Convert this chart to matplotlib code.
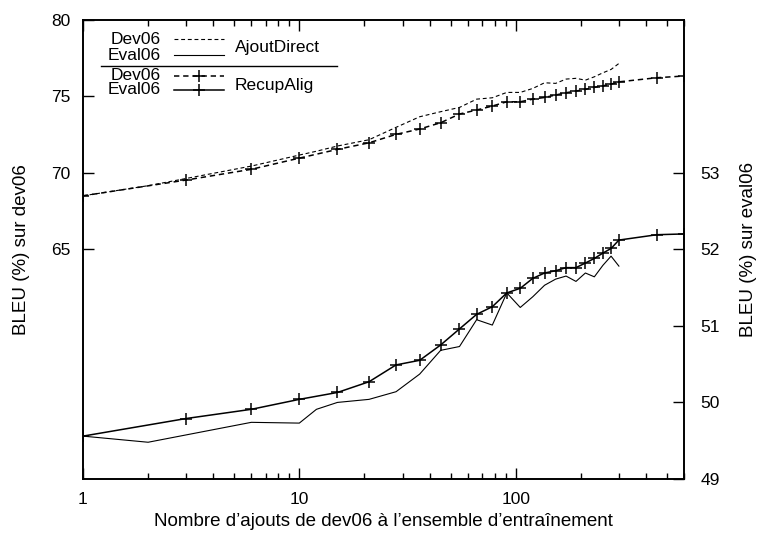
import matplotlib
matplotlib.use("Agg")
import matplotlib.pyplot as plt
from matplotlib.ticker import LogLocator, NullFormatter
from matplotlib.lines import Line2D

plt.rcParams['font.family'] = ['Liberation Sans', 'DejaVu Sans']

# RecupAlig : nombre d'ajouts
x_recup = [1, 3, 6, 10, 15, 21, 28, 36, 45, 55, 66, 78, 91, 105, 120, 136,
           153, 171, 190, 210, 231, 253, 276, 300, 450, 600]
dev_recup = [68.49, 69.52, 70.22, 70.95, 71.52, 71.95, 72.50, 72.85, 73.26,
             73.83, 74.09, 74.35, 74.63, 74.63, 74.80, 74.91, 75.07, 75.22,
             75.33, 75.44, 75.57, 75.67, 75.78, 75.93, 76.20, 76.31]
eval_recup = [49.56, 49.79, 49.91, 50.04, 50.13, 50.27, 50.49, 50.55, 50.75,
              50.96, 51.15, 51.25, 51.43, 51.49, 51.62, 51.69, 51.72, 51.76,
              51.76, 51.82, 51.88, 51.95, 52.01, 52.12, 52.19, 52.20]

# AjoutDirect
x_direct = [1, 2, 6, 10, 12, 15, 21, 28, 36, 45, 55, 66, 78, 91, 105, 120,
            136, 153, 171, 190, 210, 231, 253, 276, 300]
dev_direct = [68.49, 69.15, 70.43, 71.15, 71.40, 71.74, 72.15, 72.96, 73.65,
              73.98, 74.26, 74.80, 74.89, 75.24, 75.24, 75.50, 75.87, 75.83,
              76.11, 76.16, 76.04, 76.26, 76.52, 76.74, 77.13]
eval_direct = [49.56, 49.48, 49.74, 49.73, 49.91, 50.00, 50.04, 50.14, 50.37,
               50.68, 50.73, 51.08, 51.01, 51.43, 51.24, 51.38, 51.53, 51.61,
               51.65, 51.58, 51.69, 51.64, 51.79, 51.91, 51.78]

TICK_FS = 12.5
LAB_FS = 13.5

fig = plt.figure(figsize=(7.57, 5.33), dpi=100)
ax = fig.add_axes([0.1096, 0.1013, 0.7940, 0.8621])
ax2 = ax.twinx()

dash = (0, (3.5, 2.5))
ax.plot(x_direct, dev_direct, color='black', lw=0.8, linestyle=dash)
ax.plot(x_recup, dev_recup, color='black', lw=1.1, linestyle=dash,
        marker='+', markersize=8, markeredgewidth=1.1)
ax2.plot(x_direct, eval_direct, color='black', lw=0.8)
ax2.plot(x_recup, eval_recup, color='black', lw=1.1,
         marker='+', markersize=8, markeredgewidth=1.1)

ax.set_xscale('log')
ax.set_xlim(1, 600)
ax.set_ylim(50, 80)
ax2.set_ylim(49, 55)
ax.set_xticks([1, 10, 100])
ax.set_xticklabels(['1', '10', '100'])
ax.xaxis.set_minor_locator(LogLocator(base=10, subs=range(2, 10)))
ax.xaxis.set_minor_formatter(NullFormatter())
ax.set_yticks([65, 70, 75, 80])
ax2.set_yticks([49, 50, 51, 52, 53])

ax.tick_params(axis='x', which='both', direction='in', top=True, labelsize=TICK_FS, pad=9)
ax.tick_params(axis='x', which='major', length=8, width=1)
ax.tick_params(axis='x', which='minor', length=4.5, width=1)
ax.tick_params(axis='y', direction='in', left=True, right=False, length=8, width=1,
               labelsize=TICK_FS, pad=9)
ax2.tick_params(axis='y', direction='in', left=False, right=True, length=8, width=1,
                labelsize=TICK_FS, pad=12)
for a in (ax, ax2):
    for s in a.spines.values():
        s.set_linewidth(1.2)

ax.set_xlabel("Nombre d\u2019ajouts de dev06 \u00e0 l\u2019ensemble d\u2019entra\u00eenement",
              fontsize=LAB_FS, labelpad=5)
ax.set_ylabel("BLEU (%) sur dev06", fontsize=LAB_FS, labelpad=15)
ax2.set_ylabel("BLEU (%) sur eval06", fontsize=LAB_FS, labelpad=14)

# légende façon gnuplot
def px(x, y):
    return ax.transAxes.inverted().transform(fig.transFigure.transform((x / 757, 1 - y / 533)))

rows = [("Dev06", 39.5, dict(lw=0.8, linestyle=dash)),
        ("Eval06", 55, dict(lw=0.8)),
        ("Dev06", 76, dict(lw=1.1, linestyle=dash, marker='+', markersize=8,
                           markeredgewidth=1.1, markevery=[1])),
        ("Eval06", 90, dict(lw=1.1, marker='+', markersize=8,
                            markeredgewidth=1.1, markevery=[1]))]
for label, yy, st in rows:
    tx, ty = px(161, yy)
    ax.text(tx, ty, label, transform=ax.transAxes, ha='right', va='center', fontsize=TICK_FS)
    a0 = px(174, yy)
    a1 = px(199, yy)
    a2 = px(224, yy)
    ax.add_line(Line2D([a0[0], a1[0], a2[0]], [a0[1], a1[1], a2[1]], color='black',
                       transform=ax.transAxes, **st))
gx, gy = px(235, 47.5)
ax.text(gx, gy, "AjoutDirect", transform=ax.transAxes, ha='left', va='center', fontsize=TICK_FS)
gx, gy = px(235, 85)
ax.text(gx, gy, "RecupAlig", transform=ax.transAxes, ha='left', va='center', fontsize=TICK_FS)
s0 = px(101, 65.5)
s1 = px(337, 65.5)
ax.add_line(Line2D([s0[0], s1[0]], [s0[1], s1[1]], color='black', lw=1,
                   transform=ax.transAxes))

fig.savefig("out.png", dpi=100)
